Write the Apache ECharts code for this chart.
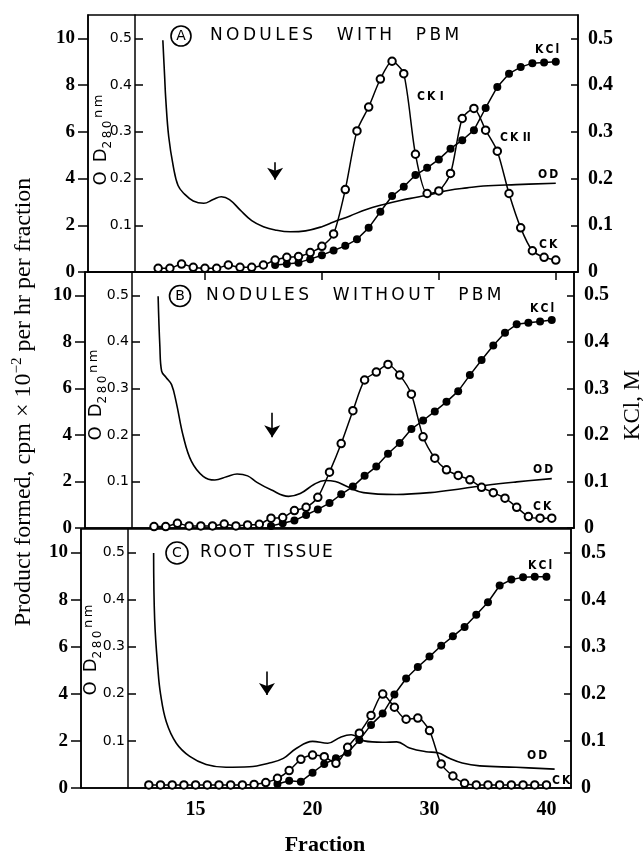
<!DOCTYPE html>
<html>
<head>
<meta charset="utf-8">
<script src="https://cdn.jsdelivr.net/npm/echarts@6/dist/echarts.min.js"></script>
<style>
html,body{margin:0;padding:0;background:#fff;}
#chart{width:643px;height:853px;}
</style>
</head>
<body>
<div id="chart"></div>
<script>
// ---------------- data ----------------
// fraction positions of the CK (open circle) points, all panels
const fractions = [6,7,8,9,10,11,12,13,14,15,16,17,18,19,20,21,22,23,24,25,26,27,28,29,30,31,32,33,34,35,36,37,38,39,40];
// Product formed (cpm x 10^-2 per hr per fraction)
const ckA = [0.16,0.16,0.34,0.2,0.16,0.16,0.3,0.2,0.2,0.3,0.51,0.63,0.66,0.83,1.1,1.63,3.53,6.04,7.06,8.26,9.02,8.49,5.04,3.36,3.47,4.22,6.57,7.0,6.07,5.17,3.36,1.89,0.91,0.63,0.51];
const ckB = [0.06,0.06,0.2,0.09,0.09,0.09,0.17,0.09,0.13,0.16,0.42,0.45,0.75,0.89,1.32,2.4,3.63,5.04,6.36,6.7,7.03,6.57,5.75,3.92,3.0,2.5,2.26,2.07,1.75,1.52,1.28,0.89,0.49,0.42,0.42];
const ckC = [0.13,0.13,0.13,0.13,0.13,0.13,0.13,0.13,0.13,0.15,0.23,0.41,0.74,1.22,1.4,1.33,1.05,1.73,2.33,3.08,3.99,3.43,2.92,2.97,2.44,1.02,0.51,0.2,0.13,0.13,0.13,0.13,0.13,0.13,0.13];

// KCl gradient (M), filled circles
const kclFracA = [16,17,18,19,20,21,22,23,24,25,26,27,28,29,30,31,32,33,34,35,36,37,38,39,40];
const kclA = [0.015,0.017,0.02,0.0275,0.036,0.046,0.056,0.07,0.0945,0.129,0.1625,0.1825,0.2075,0.223,0.241,0.264,0.282,0.3035,0.351,0.396,0.4245,0.4385,0.447,0.4485,0.45];
const kclFracB = [16,17,18,19,20,21,22,23,24,25,26,27,28,29,30,31,32,33,34,35,36,37,38,39,40];
const kclB = [0.0045,0.01,0.016,0.028,0.04,0.0535,0.0725,0.089,0.112,0.132,0.1595,0.1825,0.2125,0.231,0.2505,0.271,0.294,0.3285,0.361,0.392,0.4195,0.4375,0.441,0.4435,0.447];
const kclFracC = [17,18,19,20,21,22,23,24,25,26,27,28,29,30,31,32,33,34,35,36,37,38,39,40];
const kclC = [0.0085,0.0155,0.0135,0.0325,0.051,0.063,0.075,0.102,0.134,0.158,0.1985,0.2325,0.257,0.279,0.302,0.322,0.342,0.368,0.3945,0.43,0.4425,0.4475,0.4485,0.4485];

// OD 280 nm trace (continuous line)
const odFracA = [6.4,6.55,6.65,6.9,7.3,7.7,8.2,9.0,9.9,10.7,11.4,12.1,13.0,14.0,15.0,16.0,17.3,18.6,20.0,21.0,22.4,23.8,25.2,26.7,28.1,29.5,30.9,32.4,33.8,36.6,40.0];
const odA = [0.496,0.42,0.37,0.29,0.225,0.185,0.168,0.152,0.147,0.155,0.161,0.155,0.133,0.11,0.097,0.09,0.086,0.088,0.097,0.107,0.12,0.134,0.144,0.153,0.16,0.167,0.175,0.18,0.184,0.187,0.19];
const odFracB = [6.35,6.5,6.65,7.05,7.5,7.9,8.5,9.2,10.2,11.2,12.2,13.1,14.0,14.8,16.0,17.5,18.5,19.7,20.6,21.5,22.5,23.9,26.7,29.6,32.4,34.4,37.0,40.0];
const odB = [0.498,0.39,0.337,0.323,0.308,0.27,0.197,0.143,0.111,0.103,0.11,0.116,0.112,0.098,0.082,0.068,0.074,0.094,0.102,0.1,0.089,0.076,0.072,0.076,0.085,0.092,0.099,0.106];
const odFracC = [6.41,6.5,6.78,7.0,7.5,8.35,9.5,10.9,12.6,14.6,16.3,17.5,18.6,20.0,21.3,22.4,23.3,23.9,24.4,26.0,27.2,28.3,29.7,30.7,31.7,32.8,34.3,37.4,40.7];
const odC = [0.499,0.357,0.251,0.2,0.14,0.095,0.067,0.05,0.044,0.045,0.053,0.063,0.084,0.099,0.095,0.108,0.113,0.108,0.1,0.097,0.098,0.085,0.077,0.075,0.063,0.053,0.047,0.044,0.04];

// tick labels
const xTickValues = [10,20,30,40];
const xTickLabels = ['15','20','30','40'];
const productTicks = [0,2,4,6,8,10];
const odTicks = [0.1,0.2,0.3,0.4,0.5];
const kclTicks = [0,0.1,0.2,0.3,0.4,0.5];

// ---------------- layout ----------------
const K = '#000';
const serif = '"Liberation Serif", "Times New Roman", serif';
const sans = '"DejaVu Sans", sans-serif';
const cond = '"DejaVu Sans Condensed", "DejaVu Sans", sans-serif';

const panels = [
  {grid:{left:88, top:15, width:490, height:257}, xmin:0, xmax:41.9, ck:ckA, kclF:kclFracA, kcl:kclA, odF:odFracA, od:odA, arrow:[16,4.7,3.95]},
  {grid:{left:85, top:272, width:489, height:256}, xmin:0.1, xmax:41.9, ck:ckB, kclF:kclFracB, kcl:kclB, odF:odFracB, od:odB, arrow:[16.1,4.95,3.9]},
  {grid:{left:81, top:529, width:490, height:259}, xmin:0.2, xmax:42.1, ck:ckC, kclF:kclFracC, kcl:kclC, odF:odFracC, od:odC, arrow:[16.1,4.95,3.95]}
];

const zip = (xs, ys) => xs.map((x, i) => [x, ys[i]]);
const grids = [], xAxes = [], yAxes = [], series = [];

panels.forEach((p, i) => {
  grids.push(Object.assign({show:true, borderColor:K, borderWidth:1.5, backgroundColor:'transparent'}, p.grid));
  xAxes.push({
    gridIndex:i, type:'value', min:p.xmin, max:p.xmax,
    position: i === 0 ? 'top' : 'bottom',
    axisLine:{show:true, lineStyle:{color:K, width:1.5}},
    axisTick: i === 0 ? {show:true, inside:true, length:8, customValues:xTickValues, lineStyle:{color:K, width:1.5}} : {show:false},
    axisLabel: i === 2 ? {show:true, customValues:xTickValues, margin:12, color:K,
      fontFamily:serif, fontSize:20, fontWeight:'bold',
      formatter: v => { const k = xTickValues.indexOf(v); return k >= 0 ? xTickLabels[k] : ''; }} : {show:false},
    splitLine:{show:false}
  });
  // product formed axis (left)
  yAxes.push({
    gridIndex:i, type:'value', min:0, max:11, position:'left',
    axisLine:{show:true, lineStyle:{color:K, width:1.5}},
    axisTick:{show:true, inside:false, length:10, customValues:productTicks, lineStyle:{color:K, width:1.5}},
    axisLabel:{show:true, customValues:productTicks, margin:13, color:K, fontFamily:serif, fontSize:19, fontWeight:'bold'},
    splitLine:{show:false}
  });
  // OD axis (inner left)
  yAxes.push({
    gridIndex:i, type:'value', min:0, max:0.55, position:'left', offset:-47,
    axisLine:{show:true, lineStyle:{color:K, width:1.5}},
    axisTick:{show:true, inside:true, length:8, customValues:odTicks, lineStyle:{color:K, width:1.5}},
    axisLabel:{show:true, customValues:odTicks, margin:3, color:K, fontFamily:sans, fontSize:14,
      formatter: v => v.toFixed(1)},
    splitLine:{show:false}
  });
  // KCl axis (right)
  yAxes.push({
    gridIndex:i, type:'value', min:0, max:0.55, position:'right',
    axisLine:{show:true, lineStyle:{color:K, width:1.5}},
    axisTick:{show:true, inside:true, length:7, customValues:kclTicks, lineStyle:{color:K, width:1.5}},
    axisLabel:{show:true, customValues:kclTicks, margin:10, color:K, fontFamily:serif, fontSize:20, fontWeight:'bold',
      formatter: v => v === 0 ? '0' : v.toFixed(1)},
    splitLine:{show:false}
  });

  series.push({
    type:'line', name:'OD'+i, xAxisIndex:i, yAxisIndex:3*i+1, data:zip(p.odF, p.od),
    symbol:'none', smooth:0.4, lineStyle:{color:K, width:1.6}, z:2, silent:true
  });
  series.push({
    type:'line', name:'KCl'+i, xAxisIndex:i, yAxisIndex:3*i+2, data:zip(p.kclF, p.kcl),
    symbol:'circle', symbolSize:8, itemStyle:{color:K}, lineStyle:{color:K, width:1.5}, z:3, silent:true
  });
  series.push({
    type:'line', name:'CK'+i, xAxisIndex:i, yAxisIndex:3*i, data:zip(fractions, p.ck),
    symbol:'emptyCircle', symbolSize:7.5, smooth:0.25,
    itemStyle:{color:K, borderColor:K, borderWidth:1.4}, lineStyle:{color:K, width:1.5}, z:4, silent:true,
    markLine:{silent:true, symbol:['none','arrow'], symbolSize:12, label:{show:false},
      lineStyle:{color:K, width:1.6, type:'solid'},
      emphasis:{disabled:true},
      data:[[{coord:[p.arrow[0], p.arrow[1]]},{coord:[p.arrow[0], p.arrow[2]]}]]}
  });
});

// ---------------- texts ----------------
const graphics = [];
function txt(x, y, text, font, o) {
  o = o || {};
  const el = {type:'text', x:x, y:y, silent:true, z:100,
    style:{text:text, font:font, fill:K,
      textAlign:o.align||'left', align:o.align||'left',
      textVerticalAlign:o.va||'middle', verticalAlign:o.va||'middle'}};
  if (o.rich) el.style.rich = o.rich;
  if (o.rotation) el.rotation = o.rotation;
  graphics.push(el);
}
function circ(cx, cy, r) {
  graphics.push({type:'circle', silent:true, z:100, shape:{cx:cx, cy:cy, r:r}, style:{fill:'none', stroke:K, lineWidth:1.6}});
}
const spaced = (s, lg, wg) => s.split(' ').map(w => w.split('').join(lg)).join(wg);
const TS = '\u2009', WG = '\u2009\u2002\u2002\u2009';
const titleFont = '17px ' + sans;

circ(181, 36, 10); txt(181, 36.5, 'A', '14px ' + sans, {align:'center'});
txt(210, 36, spaced('NODULES WITH PBM', TS, WG), titleFont);
circ(180, 296, 10.5); txt(180, 296.5, 'B', '14px ' + sans, {align:'center'});
txt(206, 296, spaced('NODULES WITHOUT PBM', TS, WG), titleFont);
circ(177, 553, 11); txt(177, 553.5, 'C', '14px ' + sans, {align:'center'});
txt(200, 553, spaced('ROOT TISSUE', '\u200A', '\u2002\u200A'), titleFont);

// series labels
const lab = 'bold 12px ' + cond;
txt(535, 50, 'K\u2009C\u2009l', lab);
txt(417, 97, 'C\u2009K\u2009\u2009I', lab);
txt(500, 138, 'C\u2009K\u2009\u2009II', lab);
txt(538, 175, 'O\u2009D', lab);
txt(539, 245, 'C\u2009K', lab);
txt(530, 309, 'K\u2009C\u2009l', lab);
txt(533, 470, 'O\u2009D', lab);
txt(533, 507, 'C\u2009K', lab);
txt(528, 566, 'K\u2009C\u2009l', lab);
txt(527, 756, 'O\u2009D', lab);
txt(552, 781, 'C\u2009K', lab);

// OD axis names (rotated)
const odRich = {
  a:{fontFamily:sans, fontSize:18, lineHeight:22, verticalAlign:'top'},
  b:{fontFamily:sans, fontSize:12, lineHeight:12, verticalAlign:'bottom'},
  c:{fontFamily:sans, fontSize:13, lineHeight:16, verticalAlign:'top'}
};
const odName = '{a|O\u2002D}{b|2\u20098\u20090}{c|\u2009n\u2009m}';
txt(103, 140, odName, '18px ' + sans, {align:'center', rich:odRich, rotation:Math.PI/2});
txt(98, 395, odName, '18px ' + sans, {align:'center', rich:odRich, rotation:Math.PI/2});
txt(93, 650, odName, '18px ' + sans, {align:'center', rich:odRich, rotation:Math.PI/2});

// main axis titles
txt(24, 402, '{n|Product formed, cpm \u00d7 10}{s|\u22122}{n| per hr per fraction}', '24px ' + serif,
  {align:'center', rotation:Math.PI/2, rich:{
    n:{fontFamily:serif, fontSize:24, lineHeight:28, verticalAlign:'middle'},
    s:{fontFamily:serif, fontSize:15, lineHeight:17, verticalAlign:'top'}}});
txt(633, 405, 'KCl, M', '23px ' + serif, {align:'center', rotation:Math.PI/2});
txt(325, 845, 'Fraction', 'bold 22px ' + serif, {align:'center'});

const chart = echarts.init(document.getElementById('chart'), null, {renderer:'canvas'});
chart.setOption({
  animation:false,
  backgroundColor:'#fff',
  grid:grids, xAxis:xAxes, yAxis:yAxes, series:series,
  graphic:{elements:graphics}
});
</script>
</body>
</html>
